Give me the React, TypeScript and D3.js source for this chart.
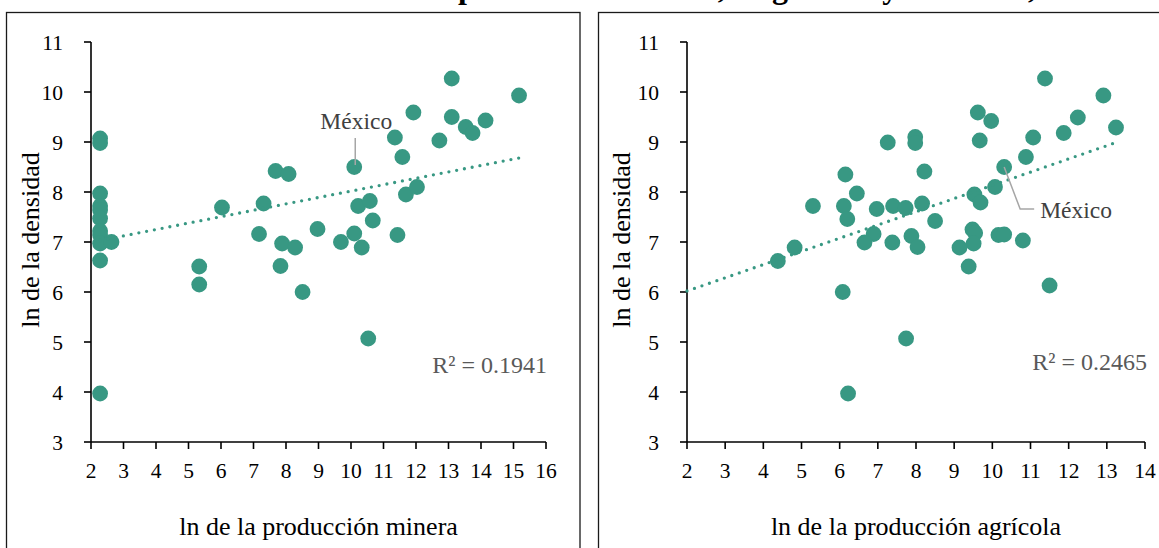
import React from "react";
import * as d3 from "d3";

// ln de la producción minera vs ln de la densidad
const mineraX = [2.28, 2.28, 2.28, 2.28, 2.28, 2.28, 2.28, 2.28, 2.28, 2.28, 2.28, 2.63, 5.33, 5.33, 6.03, 7.31, 7.17, 7.68, 8.08, 7.88, 7.83, 8.28, 8.51, 8.97, 9.69, 10.1, 10.1, 10.22, 10.33, 10.58, 10.67, 10.53, 11.35, 11.58, 11.43, 11.69, 12.03, 11.92, 12.72, 13.1, 13.1, 13.53, 13.74, 14.14, 15.17];
const mineraY = [9.07, 8.98, 7.97, 7.72, 7.64, 7.47, 7.22, 7.14, 6.97, 6.63, 3.97, 7.0, 6.51, 6.15, 7.69, 7.77, 7.16, 8.42, 8.36, 6.97, 6.52, 6.89, 6.0, 7.26, 7.0, 8.5, 7.17, 7.72, 6.89, 7.82, 7.43, 5.07, 9.09, 8.7, 7.14, 7.95, 8.1, 9.59, 9.03, 10.27, 9.5, 9.3, 9.18, 9.43, 9.93];
const mexicoMinera = 25;
// línea de tendencia (extremos)
const mineraTrendX = [2.28, 15.17];
const mineraTrendY = [7.03, 8.68];

// ln de la producción agrícola vs ln de la densidad
const agricolaX = [11.38, 12.91, 9.62, 9.97, 12.24, 13.24, 11.87, 11.07, 9.67, 7.26, 7.98, 7.98, 10.88, 10.31, 6.15, 8.22, 10.07, 6.45, 9.53, 9.69, 5.3, 6.11, 6.97, 7.4, 7.73, 8.16, 6.2, 8.5, 6.89, 6.65, 7.38, 7.88, 8.04, 9.48, 9.55, 9.51, 9.14, 10.16, 10.31, 10.8, 4.82, 4.38, 9.38, 6.08, 11.5, 7.74, 6.22];
const agricolaY = [10.27, 9.93, 9.59, 9.42, 9.49, 9.29, 9.18, 9.09, 9.03, 8.99, 9.1, 8.98, 8.7, 8.5, 8.35, 8.41, 8.1, 7.97, 7.95, 7.79, 7.72, 7.72, 7.66, 7.72, 7.68, 7.77, 7.46, 7.42, 7.16, 6.99, 6.99, 7.12, 6.9, 7.25, 7.18, 6.97, 6.89, 7.14, 7.15, 7.03, 6.89, 6.62, 6.51, 6.0, 6.13, 5.07, 3.97];
const mexicoAgricola = 13;
const agricolaTrendX = [2, 13.24];
const agricolaTrendY = [6.02, 8.99];

const yTicks = [3, 4, 5, 6, 7, 8, 9, 10, 11];
const mineraTicks = [2, 3, 4, 5, 6, 7, 8, 9, 10, 11, 12, 13, 14, 15, 16];
const agricolaTicks = [2, 3, 4, 5, 6, 7, 8, 9, 10, 11, 12, 13, 14];

const TEAL = "#389883";
const FONT = "Liberation Serif";

function Panel({ id, xs, ys, ticks, xRange, frameX, trendX, trendY, mexico, r2, r2Pos, xTitle, yTitleX, labelSide }) {
  const x = d3.scaleLinear().domain([ticks[0], ticks[ticks.length - 1]]).range(xRange);
  const y = d3.scaleLinear().domain([3, 11]).range([442, 42]);
  const trend = d3.line()(trendX.map((v, i) => [x(v), y(trendY[i])]));
  const mx = x(xs[mexico]);
  const my = y(ys[mexico]);
  const x0 = xRange[0];

  return (
    <g>
      <rect x={frameX} y={12.5} width={573.5} height={560} fill="#fff" stroke="#1a1a1a" strokeWidth={1.3} />

      {/* ejes */}
      <line x1={x0} x2={x0} y1={y(3)} y2={y(11)} stroke="#000" strokeWidth={1.6} />
      <line x1={x0} x2={xRange[1]} y1={y(3)} y2={y(3)} stroke="#000" strokeWidth={1.6} />
      {yTicks.map((t) => (
        <g key={id + "y" + t}>
          <line x1={x0 - 7} x2={x0} y1={y(t)} y2={y(t)} stroke="#000" strokeWidth={1.6} />
          <text x={x0 - 28} y={y(t)} dy="0.35em" textAnchor="end" fontSize={21.5} fill="#000">
            {t}
          </text>
        </g>
      ))}
      {ticks.map((t) => (
        <g key={id + "x" + t}>
          <line x1={x(t)} x2={x(t)} y1={y(3)} y2={y(3) + 7} stroke="#000" strokeWidth={1.6} />
          <text x={x(t)} y={478} textAnchor="middle" fontSize={21.5} fill="#000">
            {t}
          </text>
        </g>
      ))}

      {/* puntos */}
      {xs.map((v, i) => (
        <circle key={i} cx={x(v)} cy={y(ys[i])} r={7.9} fill={TEAL} />
      ))}

      {/* tendencia */}
      <path d={trend} fill="none" stroke={TEAL} strokeWidth={3.3} strokeLinecap="round" strokeDasharray="0 7.9" />

      {labelSide === "top" ? (
        <g>
          <line x1={mx + 1} x2={mx + 1} y1={my - 2} y2={my - 29} stroke="#a6a6a6" strokeWidth={1.5} />
          <text x={mx + 2} y={my - 38} textAnchor="middle" fontSize={23.5} fill="#404040">
            México
          </text>
        </g>
      ) : (
        <g>
          <polyline points={`${mx},${my} ${mx + 16},${my + 42} ${mx + 30},${my + 42}`} fill="none" stroke="#a6a6a6" strokeWidth={1.5} />
          <text x={mx + 36} y={my + 51} textAnchor="start" fontSize={23.5} fill="#404040">
            México
          </text>
        </g>
      )}

      <text x={r2Pos[0]} y={r2Pos[1]} textAnchor="end" fontSize={24} fill="#595959">
        {r2}
      </text>

      <text x={(xRange[0] + xRange[1]) / 2} y={535} textAnchor="middle" fontSize={26} fill="#000">
        {xTitle}
      </text>
      <text transform={`translate(${yTitleX},240) rotate(-90)`} textAnchor="middle" fontSize={26} fill="#000">
        ln de la densidad
      </text>
    </g>
  );
}

export default function App() {
  return (
    <div style={{ position: "fixed", left: 0, top: 0, width: 1159, height: 548, overflow: "hidden" }}>
      <style>{"html, body { margin: 0; overflow: hidden; }"}</style>
      <svg width={1159} height={548} style={{ display: "block", background: "#fff", fontFamily: FONT }}>
        <Panel
          id="m"
          xs={mineraX}
          ys={mineraY}
          ticks={mineraTicks}
          xRange={[91, 546]}
          frameX={6.5}
          trendX={mineraTrendX}
          trendY={mineraTrendY}
          mexico={mexicoMinera}
          r2="R² = 0.1941"
          r2Pos={[547, 373]}
          xTitle="ln de la producción minera"
          yTitleX={39}
          labelSide="top"
        />
        <Panel
          id="a"
          xs={agricolaX}
          ys={agricolaY}
          ticks={agricolaTicks}
          xRange={[687, 1145]}
          frameX={598.5}
          trendX={agricolaTrendX}
          trendY={agricolaTrendY}
          mexico={mexicoAgricola}
          r2="R² = 0.2465"
          r2Pos={[1147, 370]}
          xTitle="ln de la producción agrícola"
          yTitleX={630}
          labelSide="right"
        />
        <text y={-2.5} fontSize={32} fontWeight="bold" fill="#000">
          <tspan x={451} textAnchor="end">Densidad en función de la </tspan>
          <tspan x={458}>producción minera,</tspan>
          <tspan x={756} wordSpacing={8}>agrícola y turística, 2015</tspan>
        </text>
      </svg>
    </div>
  );
}
